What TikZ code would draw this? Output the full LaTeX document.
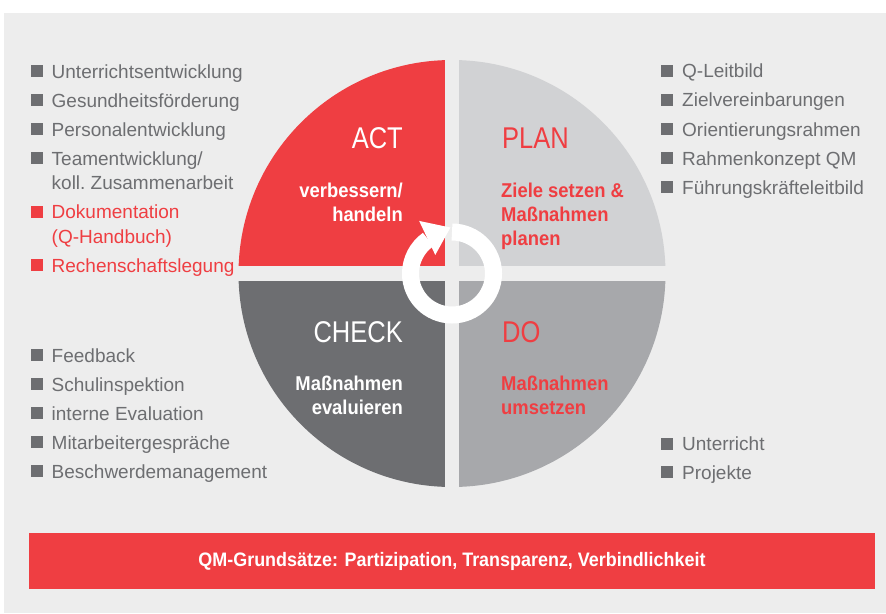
\documentclass[tikz,border=0pt]{standalone}
\usepackage{fontspec}
\setmainfont{Liberation Sans}
\newfontfamily\titlefont{Liberation Sans}[FakeStretch=0.85]
\newfontfamily\condfont{Liberation Sans}[FakeStretch=0.92]

\definecolor{qmred}{HTML}{EF3E42}
\definecolor{qmback}{HTML}{EDEDED}
\definecolor{planfill}{HTML}{D1D2D4}
\definecolor{dofill}{HTML}{A7A8AB}
\definecolor{checkfill}{HTML}{6D6E71}
\definecolor{listgray}{HTML}{6D6E71}

\tikzset{
  entry/.style={anchor=base west, inner sep=0pt, text=listgray, font=\fontsize{19}{23}\selectfont},
  redentry/.style={entry, text=qmred},
  bul/.style={fill=listgray, minimum size=12pt, inner sep=0pt},
  redbul/.style={bul, fill=qmred},
  phase/.style={inner sep=0pt, font=\titlefont\fontsize{30}{36}\selectfont},
  task/.style={inner sep=0pt, font=\condfont\bfseries\fontsize{20}{24}\selectfont},
}

\begin{document}
\begin{tikzpicture}[x=1pt, y=1pt]
\useasboundingbox (0,0) rectangle (886,-613);
\fill[white] (0,0) rectangle (886,-613);
\fill[qmback] (4,-13) rectangle (886,-613);

% PDCA-Kreis
\coordinate (c) at (452,-273.5);
\begin{scope}
\clip (c) circle[radius=213.5];
\fill[qmred] (c) rectangle ++(-220,220);
\fill[planfill] (c) rectangle ++(220,220);
\fill[dofill] (c) rectangle ++(220,-220);
\fill[checkfill] (c) rectangle ++(-220,-220);
\end{scope}
\draw[qmback, line width=14pt] (c) ++(0,225) -- ++(0,-450);
\draw[qmback, line width=15pt] (c) ++(-225,0) -- ++(450,0);

% Kreislaufpfeil
\draw[white, line width=17pt] (c) ++(90:41.5) arc[start angle=90, end angle=-235, radius=41.5];
\begin{scope}[shift={(c)}]
\fill[white] (122:62) -- (92:46) -- (132:25) -- cycle;
\end{scope}

% Phasen
\node[phase, anchor=base east, text=white] (act) at (403,-148) {ACT};
\node[phase, anchor=base west, text=qmred] (plan) at (502,-148) {PLAN};
\node[phase, anchor=base east, text=white] (check) at (403,-342) {CHECK};
\node[phase, anchor=base west, text=qmred] (do) at (502,-342) {DO};

\node[task, anchor=base east, text=white] (act1) at (403,-197) {verbessern/};
\node[task, anchor=base east, text=white] (act2) at (403,-221) {handeln};
\node[task, anchor=base west, text=qmred] (plan1) at (501,-197) {Ziele setzen \&};
\node[task, anchor=base west, text=qmred] (plan2) at (501,-221) {Maßnahmen};
\node[task, anchor=base west, text=qmred] (plan3) at (501,-245) {planen};
\node[task, anchor=base east, text=white] (check1) at (403,-390) {Maßnahmen};
\node[task, anchor=base east, text=white] (check2) at (403,-414) {evaluieren};
\node[task, anchor=base west, text=qmred] (do1) at (501,-390) {Maßnahmen};
\node[task, anchor=base west, text=qmred] (do2) at (501,-414) {umsetzen};

% Liste ACT
\node[bul] (ba1) at (36.5,-71) {};
\node[entry] (la1) at (51.5,-78) {Unterrichtsentwicklung};
\node[bul] (ba2) at (36.5,-100) {};
\node[entry] (la2) at (51.5,-107) {Gesundheitsförderung};
\node[bul] (ba3) at (36.5,-129) {};
\node[entry] (la3) at (51.5,-136) {Personalentwicklung};
\node[bul] (ba4) at (36.5,-158) {};
\node[entry] (la4) at (51.5,-165) {Teamentwicklung/};
\node[entry] (la4b) at (51.5,-189.5) {koll.\ Zusammenarbeit};
\node[redbul] (ba5) at (36.5,-211.5) {};
\node[redentry] (la5) at (51.5,-218.5) {Dokumentation};
\node[redentry] (la5b) at (51.5,-243) {(Q-Handbuch)};
\node[redbul] (ba6) at (36.5,-265) {};
\node[redentry] (la6) at (51.5,-272) {Rechenschaftslegung};

% Liste CHECK
\node[bul] (bc1) at (36.5,-355) {};
\node[entry] (lc1) at (51.5,-362) {Feedback};
\node[bul] (bc2) at (36.5,-384) {};
\node[entry] (lc2) at (51.5,-391) {Schulinspektion};
\node[bul] (bc3) at (36.5,-413) {};
\node[entry] (lc3) at (51.5,-420) {interne Evaluation};
\node[bul] (bc4) at (36.5,-442) {};
\node[entry] (lc4) at (51.5,-449) {Mitarbeitergespräche};
\node[bul] (bc5) at (36.5,-471) {};
\node[entry] (lc5) at (51.5,-478) {Beschwerdemanagement};

% Liste PLAN
\node[bul] (bp1) at (667,-70.5) {};
\node[entry] (lp1) at (682,-77.5) {Q-Leitbild};
\node[bul] (bp2) at (667,-99.5) {};
\node[entry] (lp2) at (682,-106.5) {Zielvereinbarungen};
\node[bul] (bp3) at (667,-129) {};
\node[entry] (lp3) at (682,-136) {Orientierungsrahmen};
\node[bul] (bp4) at (667,-158) {};
\node[entry] (lp4) at (682,-165) {Rahmenkonzept QM};
\node[bul] (bp5) at (667,-187) {};
\node[entry] (lp5) at (682,-194) {Führungskräfteleitbild};

% Liste DO
\node[bul] (bd1) at (667,-443.5) {};
\node[entry] (ld1) at (682,-450.5) {Unterricht};
\node[bul] (bd2) at (667,-472) {};
\node[entry] (ld2) at (682,-479) {Projekte};

% Grundsaetze
\node[fill=qmred, minimum width=846pt, minimum height=56pt, inner sep=0pt, text=white,
  font=\condfont\bfseries\fontsize{19.5}{23}\selectfont] (base) at (452,-561)
  {QM-Grundsätze: Partizipation, Transparenz, Verbindlichkeit};
\end{tikzpicture}
\end{document}
